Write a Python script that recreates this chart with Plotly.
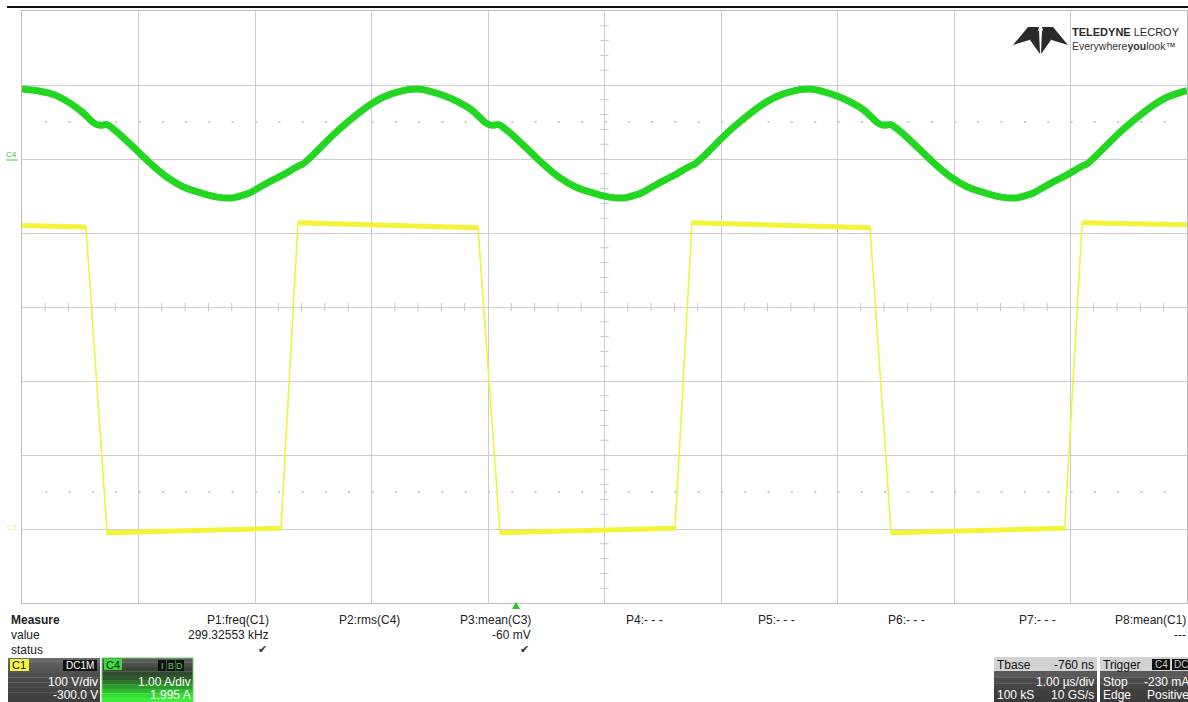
import plotly.graph_objects as go

# Channel C1 (yellow, switch-node voltage) : time in microseconds, volts
time_c1_us = [0.000, 0.300, 0.549, 0.730, 1.200, 1.800, 2.223, 2.369, 2.800, 3.400,
              3.914, 4.103, 4.600, 5.200, 5.605, 5.751, 6.200, 6.800, 7.279, 7.460,
              7.950, 8.500, 8.950, 9.100, 9.600, 10.000]
c1_volts = [410, 409, 408, -5, -3, -1, 1, 414, 412, 410,
            407, -5, -3, -1, 1, 414, 412, 410, 407, -5,
            -3, -1, 1, 414, 412, 411]

# Channel C4 (green, inductor current) : time in microseconds, amperes
time_c4_us = [0.000, 0.155, 0.283, 0.412, 0.524, 0.609, 0.670, 0.730, 0.815, 0.953,
              1.099, 1.245, 1.382, 1.528, 1.674, 1.811, 1.957, 2.103, 2.240, 2.361,
              2.412, 2.498, 2.670, 2.815, 2.961, 3.099, 3.245, 3.391, 3.528, 3.674,
              3.820, 3.888, 3.974, 4.034, 4.094, 4.180, 4.318, 4.464, 4.609, 4.747,
              4.893, 5.039, 5.176, 5.322, 5.468, 5.605, 5.725, 5.777, 5.863, 6.034,
              6.180, 6.326, 6.464, 6.609, 6.755, 6.893, 7.039, 7.185, 7.253, 7.339,
              7.399, 7.459, 7.545, 7.682, 7.828, 7.974, 8.112, 8.258, 8.403, 8.541,
              8.687, 8.833, 8.970, 9.090, 9.142, 9.227, 9.399, 9.545, 9.691, 9.828,
              9.974, 10.000]
c4_amps = [0.95, 0.92, 0.87, 0.76, 0.63, 0.50, 0.46, 0.47, 0.37, 0.17,
           -0.05, -0.24, -0.37, -0.45, -0.51, -0.52, -0.45, -0.32, -0.21, -0.10,
           -0.06, 0.06, 0.33, 0.53, 0.71, 0.84, 0.92, 0.95, 0.91, 0.83,
           0.71, 0.63, 0.50, 0.46, 0.47, 0.37, 0.17, -0.05, -0.24, -0.37,
           -0.45, -0.51, -0.52, -0.45, -0.32, -0.21, -0.10, -0.06, 0.06, 0.33,
           0.53, 0.71, 0.84, 0.92, 0.95, 0.91, 0.83, 0.71, 0.63, 0.50,
           0.46, 0.47, 0.37, 0.17, -0.05, -0.24, -0.37, -0.45, -0.51, -0.52,
           -0.45, -0.32, -0.21, -0.10, -0.06, 0.06, 0.33, 0.53, 0.71, 0.84,
           0.92, 0.93]

# vertical settings of the channels
C1_SCALE, C1_OFFSET = 100.0, -300.0   # V/div, V
C4_SCALE, C4_OFFSET = 1.00, 1.995     # A/div, A

# measurement table
meas_names = ["P1:freq(C1)", "P2:rms(C4)", "P3:mean(C3)", "P4:- - -",
              "P5:- - -", "P6:- - -", "P7:- - -", "P8:mean(C1)"]
meas_values = ["299.32553 kHz", "", "-60 mV", "", "", "", "", "---"]
meas_status = ["✔", "", "✔", "", "", "", "", ""]

# ---------------- geometry helpers ----------------
W, H = 1188, 702
L, R, T, B = 22, 1187, 11, 603


def px(xp):
    return (xp - L) / (R - L)


def py(yp):
    return (B - yp) / (B - T)


c1_div = [(v + C1_OFFSET) / C1_SCALE for v in c1_volts]
c4_div = [(a + C4_OFFSET) / C4_SCALE for a in c4_amps]

# thick flat parts of C1 (noise band): break the line at each edge
c1_flat_t, c1_flat_y = [], []
for i, (t, y) in enumerate(zip(time_c1_us, c1_div)):
    if i > 0 and abs(y - c1_div[i - 1]) > 1.0:
        c1_flat_t.append(None)
        c1_flat_y.append(None)
    c1_flat_t.append(t)
    c1_flat_y.append(y)

YEL = "#f3f33a"
GRN = "#22d622"

fig = go.Figure()
fig.add_trace(go.Scatter(x=time_c1_us, y=c1_div, mode="lines",
                         line=dict(color=YEL, width=1.6), hoverinfo="skip"))
fig.add_trace(go.Scatter(x=c1_flat_t, y=c1_flat_y, mode="lines",
                         line=dict(color=YEL, width=5), connectgaps=False,
                         hoverinfo="skip"))
fig.add_trace(go.Scatter(x=time_c4_us, y=c4_div, mode="lines",
                         line=dict(color=GRN, width=7, shape="spline", smoothing=0.6),
                         hoverinfo="skip"))

shapes = []
annotations = []

# center cross tick marks (0.2 div)
for k in range(1, 50):
    xv = k * 0.2
    if abs(xv - round(xv)) < 1e-6:
        continue
    shapes.append(dict(type="line", xref="x", yref="y", x0=xv, x1=xv, y0=-0.055, y1=0.055,
                       line=dict(color="#c4c4c4", width=1), layer="below"))
for k in range(-19, 20):
    yv = k * 0.2
    if abs(yv - round(yv)) < 1e-6:
        continue
    shapes.append(dict(type="line", xref="x", yref="y", x0=5 - 0.035, x1=5 + 0.035, y0=yv, y1=yv,
                       line=dict(color="#c4c4c4", width=1), layer="below"))
# dotted rows
for yv in (2.5, -2.5):
    shapes.append(dict(type="line", xref="x", yref="y", x0=0.2, x1=10, y0=yv, y1=yv,
                       line=dict(color="#c8c8c8", width=2, dash="2px,21.3px"), layer="below"))

# top black rule
shapes.append(dict(type="line", xref="paper", yref="paper", x0=px(7), x1=px(1188),
                   y0=py(7), y1=py(7), line=dict(color="#111111", width=2)))


def rect(x0, y0, x1, y1, color, line_color=None, lw=0):
    shapes.append(dict(type="rect", xref="paper", yref="paper",
                       x0=px(x0), x1=px(x1), y0=py(y1), y1=py(y0),
                       fillcolor=color, line=dict(width=lw, color=line_color or color),
                       layer="above"))


def grad(x0, y0, x1, y1, colors):
    n = len(colors)
    h = (y1 - y0) / n
    for i, c in enumerate(colors):
        rect(x0, y0 + i * h, x1, y0 + (i + 1) * h + 0.3, c)


def ann(text, x, y, anchor="left", size=12, color="#222222", family="Liberation Sans", **kw):
    annotations.append(dict(text=text, x=px(x), y=py(y), xref="paper", yref="paper",
                            xanchor=anchor, yanchor="middle", showarrow=False,
                            font=dict(size=size, color=color, family=family),
                            borderpad=0, **kw))


def path(points, color):
    d = "M " + " L ".join(f"{px(a):.5f},{py(b):.5f}" for a, b in points) + " Z"
    shapes.append(dict(type="path", xref="paper", yref="paper", path=d,
                       fillcolor=color, line=dict(width=0), layer="above"))


# measurement table
ann("<b>Measure</b>", 10, 620)
ann("value", 10, 635)
ann("status", 10, 650)
right_edges = [270, 401, 532, 664, 796, 926, 1057, 1187]
for name, val, st, xr in zip(meas_names, meas_values, meas_status, right_edges):
    ann(name, xr, 620, anchor="right")
    if val:
        ann(val, xr, 635, anchor="right")
    if st:
        ann(st, xr - 2, 649, anchor="right", size=11, color="#333333", family="DejaVu Sans")

# trigger position marker
path([(512, 609), (520, 609), (516, 602)], "#22cc22")

# C1 descriptor box
grad(8, 658, 100, 702, ["#6b6b6b", "#5c5c5c", "#545454", "#4e4e4e", "#4a4a4a",
                        "#474747", "#444444", "#424242", "#404040"])
rect(10, 659, 29, 671, "#f4f43c")
ann("C1", 11, 665, size=11, color="#111111")
rect(63, 660, 97, 671, "#111111")
ann("DC1M", 80, 665.5, anchor="center", size=10, color="#ffffff")
ann("100 V/div", 99, 682, anchor="right", color="#ffffff")
ann("-300.0 V", 99, 695, anchor="right", color="#ffffff")

# C4 descriptor box
grad(102, 658, 193, 702, ["#5a5a5a", "#4a4f4a", "#3a463a", "#2f4a2f", "#2c5a2c",
                          "#2c772c", "#2c9a2c", "#2fbd2f", "#33dc33", "#39f039"])
rect(102, 658, 193, 702, "rgba(0,0,0,0)", line_color="#5fdc5f", lw=1)
rect(104, 659, 122, 670, "#3ddc3d")
ann("C4", 105, 664.5, size=11, color="#111111")
for xb, lab in zip([158, 167, 176], ["I", "B", "D"]):
    rect(xb, 660, xb + 8, 671, "#111111")
    ann(lab, xb + 4, 665.5, anchor="center", size=9, color="#3ddc3d")
ann("1.00 A/div", 192, 682, anchor="right", color="#ffffff")
ann("1.995 A", 192, 695, anchor="right", color="#ffffff")

# Tbase box
rect(994, 657, 1097, 671, "#d2d2d2")
grad(994, 671, 1097, 702, ["#5a5a5a", "#4c4c4c", "#454545", "#404040", "#3c3c3c"])
ann("Tbase", 996, 664.5, color="#111111")
ann("-760 ns", 1095, 664.5, anchor="right", color="#111111")
ann("1.00 µs/div", 1095, 682, anchor="right", color="#ffffff")
ann("100 kS", 996, 695, color="#ffffff")
ann("10 GS/s", 1095, 695, anchor="right", color="#ffffff")

# Trigger box
rect(1100, 657, 1188, 671, "#d2d2d2")
grad(1100, 671, 1188, 702, ["#5a5a5a", "#4c4c4c", "#454545", "#404040", "#3c3c3c"])
ann("Trigger", 1102, 664.5, color="#111111")
rect(1152, 659, 1170, 670, "#111111")
ann("C4", 1161, 664.5, anchor="center", size=10, color="#cccccc")
rect(1172, 659, 1188, 670, "#111111")
ann("DC", 1173, 664.5, size=10, color="#cccccc")
ann("Stop", 1102, 682, color="#ffffff")
ann("-230 mA", 1190, 682, anchor="right", color="#ffffff")
ann("Edge", 1102, 695, color="#ffffff")
ann("Positive", 1190, 695, anchor="right", color="#ffffff")

# channel ground markers on the left
ann("C4", 5, 155, size=8, color="#33bb33")
shapes.append(dict(type="line", xref="paper", yref="paper", x0=px(6), x1=px(18),
                   y0=py(160), y1=py(160), line=dict(color="#44cc44", width=1)))
ann("C1", 6, 527, size=8, color="#eeee88")

# logo
LOGO = "#2a2a2a"
path([(1013, 45), (1028, 27), (1039, 27), (1036, 38)], LOGO)
path([(1068, 45), (1053, 27), (1042, 27), (1045, 38)], LOGO)
path([(1030, 40), (1039, 30), (1040, 54)], LOGO)
path([(1051, 40), (1042, 30), (1041, 54)], LOGO)
ann("<b>TELEDYNE</b> LECROY", 1071, 32, size=11, color="#2a2a2a")
ann("Everywhere<b>you</b>look™", 1071, 46, size=10.5, color="#333333")

fig.update_layout(
    width=W, height=H, autosize=False,
    margin=dict(l=L, r=W - R, t=T, b=H - B),
    paper_bgcolor="white", plot_bgcolor="white",
    showlegend=False,
    xaxis=dict(range=[0, 10], dtick=1, tick0=0, showgrid=True, gridcolor="#cdcdcd",
               gridwidth=1, zeroline=False, showticklabels=False, ticks="",
               showline=True, linecolor="#bdbdbd", linewidth=1, mirror=True, fixedrange=True),
    yaxis=dict(range=[-4, 4], dtick=1, tick0=0, showgrid=True, gridcolor="#cdcdcd",
               gridwidth=1, zeroline=False, showticklabels=False, ticks="",
               showline=True, linecolor="#bdbdbd", linewidth=1, mirror=True, fixedrange=True),
    shapes=shapes,
    annotations=annotations,
)

fig.write_html("out.html")
